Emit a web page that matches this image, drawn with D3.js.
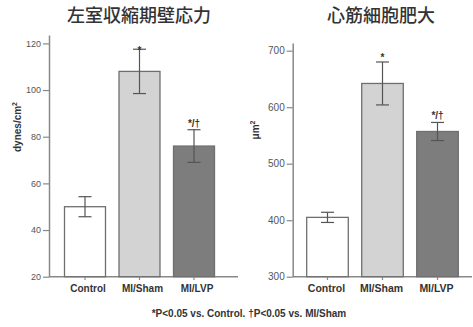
<!DOCTYPE html>
<html><head><meta charset="utf-8">
<script src="https://cdn.jsdelivr.net/npm/d3@7"></script>
<style>body{margin:0;background:#fff}svg{display:block}</style>
</head><body>
<script>
const categories = ["Control", "MI/Sham", "MI/LVP"];
const stressValues = [50, 108, 76];
const stressErrors = [4.3, 9.5, 7];
const stressTicks = [20, 40, 60, 80, 100, 120];
const sizeValues = [405, 642, 557];
const sizeErrors = [9, 38, 16];
const sizeTicks = [300, 400, 500, 600, 700];
const annotations = ["", "*", "*/\u2020"];
const barColors = ["#ffffff", "#d3d3d3", "#7d7d7d"];

const W = 473, H = 327;
const svg = d3.select("body").append("svg").attr("width", W).attr("height", H);
const sans = "'Liberation Sans', Arial, sans-serif";

function panel(o) {
  const g = svg.append("g");
  const y = d3.scaleLinear().domain(o.domain).range([276.7, o.yTop]);
  const x = d3.scaleBand().domain(categories).range(o.xr).paddingInner(o.pad).paddingOuter(0);
  // title
  g.append("text").attr("x", o.titleX).attr("y", 22).attr("text-anchor", "middle")
    .attr("font-family", "'Noto Sans CJK JP', sans-serif").attr("font-size", 18)
    .attr("font-weight", 500).attr("fill", "#333").text(o.title);
  // y axis
  const ya = g.append("g").attr("transform", `translate(${o.ax},0)`)
    .call(d3.axisLeft(y).tickValues(o.ticks).tickSize(6).tickPadding(2).tickSizeOuter(0));
  ya.select(".domain").attr("stroke", "#888").attr("stroke-width", 1.5);
  ya.selectAll(".tick line").attr("stroke", "#888").attr("stroke-width", 1.2);
  ya.selectAll(".tick text").attr("font-family", sans).attr("font-size", o.tickFs)
    .attr("fill", "#555");
  // x axis line
  g.append("line").attr("x1", o.ax).attr("x2", o.xEnd).attr("y1", 276.7).attr("y2", 276.7)
    .attr("stroke", "#888").attr("stroke-width", 1.5);
  // bars
  categories.forEach((c, i) => {
    const v = o.values[i], e = o.errors[i];
    const cx = x(c) + x.bandwidth() / 2;
    g.append("rect").attr("x", x(c)).attr("width", x.bandwidth())
      .attr("y", y(v)).attr("height", y(o.domain[0]) - y(v))
      .attr("fill", barColors[i]).attr("stroke", "#6f6f6f").attr("stroke-width", 1.3);
    // error bar
    const eg = g.append("g").attr("stroke", "#555").attr("stroke-width", 1.2);
    eg.append("line").attr("x1", cx).attr("x2", cx).attr("y1", y(v + e)).attr("y2", y(v - e));
    [v + e, v - e].forEach(t => eg.append("line").attr("x1", cx - 6.5).attr("x2", cx + 6.5)
      .attr("y1", y(t)).attr("y2", y(t)));
    // x tick
    g.append("line").attr("x1", cx).attr("x2", cx).attr("y1", 276.7).attr("y2", 280)
      .attr("stroke", "#888").attr("stroke-width", 1.2);
    g.append("text").attr("x", cx + o.labDx).attr("y", 292).attr("text-anchor", "middle")
      .attr("font-family", sans).attr("font-weight", "bold").attr("font-size", o.labFs)
      .attr("fill", "#333").text(c);
    if (annotations[i]) {
      g.append("text").attr("x", cx).attr("y", y(v + e) + o.annDy[i]).attr("text-anchor", "middle")
        .attr("font-family", sans).attr("font-weight", "bold").attr("font-size", 10)
        .attr("fill", "#333").text(annotations[i]);
    }
  });
  // y label
  g.append("text").attr("transform", `translate(${o.ylx},${o.yly}) rotate(-90)`)
    .attr("text-anchor", "middle").attr("font-family", sans).attr("font-weight", "bold")
    .attr("font-size", 10).attr("fill", "#333").html(o.ylabel);
}

panel({
  title: "左室収縮期壁応力", titleX: 139,
  domain: [20, 123.6], yTop: 35, ticks: stressTicks,
  xr: [64.5, 214.5], pad: 0.248, ax: 49, xEnd: 238,
  values: stressValues, errors: stressErrors,
  tickFs: 9, labFs: 10, labDx: 3, annDy: [0, 5, -3],
  ylx: 21, yly: 127, ylabel: 'dynes/cm<tspan dy="-4" font-size="7">2</tspan>'
});
panel({
  title: "心筋細胞肥大", titleX: 381,
  domain: [300, 713.6], yTop: 43, ticks: sizeTicks,
  xr: [306.7, 458.3], pad: 0.244, ax: 292.7, xEnd: 472,
  values: sizeValues, errors: sizeErrors,
  tickFs: 10, labFs: 10.5, labDx: -1, annDy: [0, -1, -3],
  ylx: 259, yly: 130, ylabel: 'μm<tspan dy="-4" font-size="7">2</tspan>'
});

svg.append("text").attr("x", 249).attr("y", 317).attr("text-anchor", "middle")
  .attr("font-family", sans).attr("font-weight", "bold").attr("font-size", 10)
  .attr("fill", "#333").text("*P<0.05 vs. Control. \u2020P<0.05 vs. MI/Sham");
</script>
</body></html>
